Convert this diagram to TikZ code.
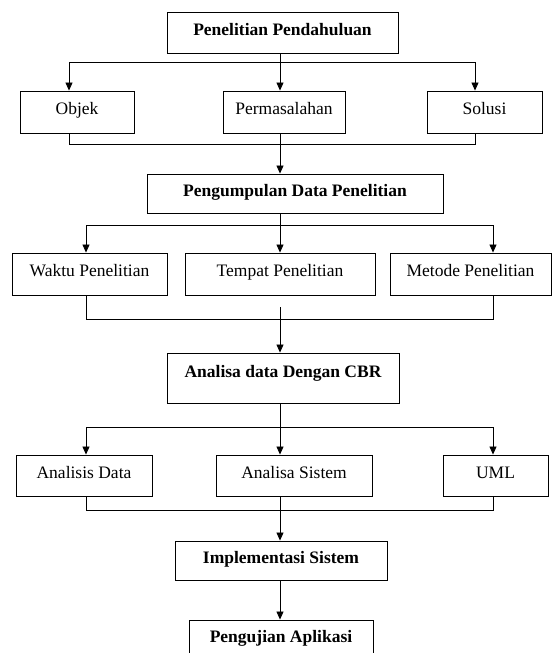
\documentclass[tikz,border=0pt]{standalone}
\usepackage{fontspec}
\setmainfont{Liberation Serif}
\usetikzlibrary{arrows.meta}

\begin{document}
\begin{tikzpicture}[x=1pt, y=-1pt,
        box/.style={draw, line width=0.9pt, inner sep=0pt, text height=12pt, text depth=7pt, font=\fontsize{17.5}{21}\selectfont},
        boldbox/.style={box, font=\fontsize{17.5}{21}\selectfont\bfseries},
        line/.style={black, line width=0.8pt},
        arr/.style={line, -{Triangle[width=7pt, length=8pt]}}]
        \useasboundingbox (0,0) rectangle (552,653);
        \clip (0,0) rectangle (552,653);
        \coordinate (axis) at (280,0);

        \node [boldbox, minimum width=231pt, minimum height=41pt] (pendahuluan) at (282.5,32.5) {Penelitian Pendahuluan};
        \node [box, minimum width=114pt, minimum height=42pt] (objek) at (77,112) {Objek};
        \node [box, minimum width=122pt, minimum height=42pt] (masalah) at (284,112) {Permasalahan};
        \node [box, minimum width=115pt, minimum height=42pt] (solusi) at (484.5,112) {Solusi};

        \node [boldbox, minimum width=296pt, minimum height=39pt] (pengumpulan) at (295,193.5) {Pengumpulan Data Penelitian};
        \node [box, minimum width=155pt, minimum height=42pt] (waktu) at (89.5,274) {Waktu Penelitian};
        \node [box, minimum width=190pt, minimum height=42pt] (tempat) at (280,274) {Tempat Penelitian};
        \node [box, minimum width=161pt, minimum height=42pt] (metode) at (470.5,274) {Metode Penelitian};

        \node [boldbox, text depth=14pt, minimum width=232pt, minimum height=50pt] (cbr) at (283,378) {Analisa data Dengan CBR};
        \node [box, minimum width=136pt, minimum height=41pt] (analisis) at (84,475.5) {Analisis Data};
        \node [box, minimum width=156pt, minimum height=41pt] (sistem) at (294,475.5) {Analisa Sistem};
        \node [box, minimum width=105pt, minimum height=41pt] (uml) at (495.5,475.5) {UML};

        \node [boldbox, minimum width=212pt, minimum height=39pt] (implementasi) at (281,560.5) {Implementasi Sistem};
        \node [boldbox, minimum width=184pt, minimum height=40pt] (pengujian) at (281,640) {Pengujian Aplikasi};

        \coordinate (a1l) at (69,62);
        \coordinate (a1r) at (475,62);
        \coordinate (b1l) at (69,144);
        \coordinate (b1r) at (475,144);
        \draw [line] (a1l) -- (a1r);
        \draw [arr] (a1l) -- (a1l |- objek.north);
        \draw [arr] (pendahuluan.south -| axis) -- (masalah.north -| axis);
        \draw [arr] (a1r) -- (a1r |- solusi.north);
        \draw [line] (objek.south -| b1l) -- (b1l) -- (b1r) -- (solusi.south -| b1r);
        \draw [arr] (masalah.south -| axis) -- (pengumpulan.north -| axis);

        \coordinate (a2l) at (86,225);
        \coordinate (a2r) at (493,225);
        \coordinate (b2l) at (86,319);
        \coordinate (b2r) at (493,319);
        \coordinate (g2) at (280,307);
        \draw [line] (a2l) -- (a2r);
        \draw [arr] (a2l) -- (a2l |- waktu.north);
        \draw [arr] (pengumpulan.south -| axis) -- (tempat.north -| axis);
        \draw [arr] (a2r) -- (a2r |- metode.north);
        \draw [line] (waktu.south -| b2l) -- (b2l) -- (b2r) -- (metode.south -| b2r);
        \draw [arr] (g2) -- (cbr.north -| g2);

        \coordinate (a3l) at (86,427);
        \coordinate (a3r) at (493,427);
        \coordinate (b3l) at (86,510);
        \coordinate (b3r) at (493,510);
        \draw [line] (a3l) -- (a3r);
        \draw [arr] (a3l) -- (a3l |- analisis.north);
        \draw [arr] (cbr.south -| axis) -- (sistem.north -| axis);
        \draw [arr] (a3r) -- (a3r |- uml.north);
        \draw [line] (analisis.south -| b3l) -- (b3l) -- (b3r) -- (uml.south -| b3r);
        \draw [arr] (sistem.south -| axis) -- (implementasi.north -| axis);
        \draw [arr] (implementasi.south -| axis) -- (pengujian.north -| axis);
    \end{tikzpicture}
\end{document}
